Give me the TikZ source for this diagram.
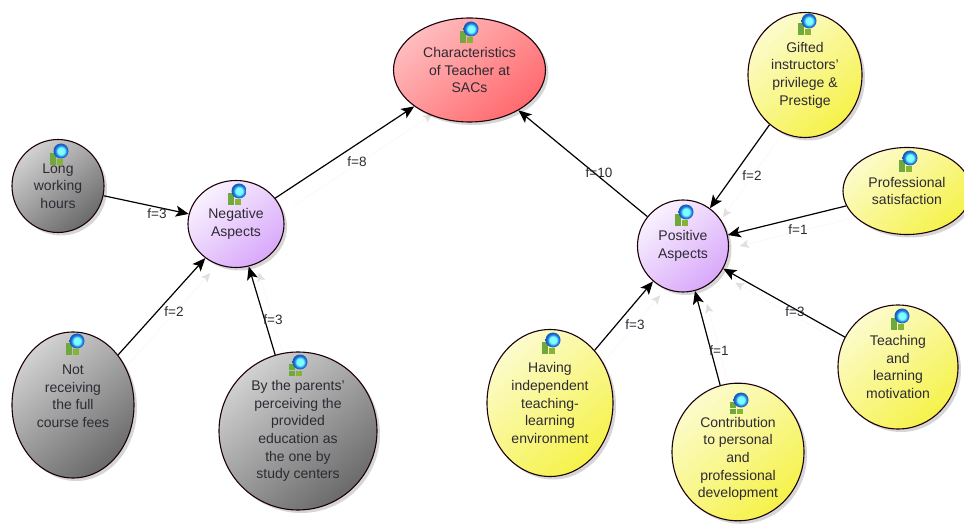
\documentclass[tikz,border=0pt]{standalone}
\usepackage{fontspec}
\setmainfont{Liberation Sans}
\usetikzlibrary{arrows.meta,shadows,shapes.geometric}
\pgfdeclarelayer{faint}
\pgfsetlayers{faint,main}
\definecolor{txt}{HTML}{2E2A33}
\definecolor{redf}{HTML}{FF6A6E}
\definecolor{purf}{HTML}{D8A8FA}
\definecolor{yelf}{HTML}{F5F24A}
\definecolor{gryf}{HTML}{6A6A6A}
\definecolor{icg}{HTML}{6FA83C}
\definecolor{icb}{HTML}{1E6FE0}
\pgfdeclareradialshading{orb}{\pgfpoint{0bp}{0bp}}{
  color(0bp)=(white!55!cyan); color(12bp)=(white!45!cyan); color(19bp)=(icb); color(25bp)=(icb!80!black); color(50bp)=(icb!80!black)}
\tikzset{
  base/.style={ellipse,draw=black!85!purple,line width=1.1pt,inner sep=0pt,align=center,text=txt,
    font=\fontsize{14}{17.6}\selectfont,
    drop shadow={shadow xshift=3pt,shadow yshift=-3pt,opacity=.16,fill=black}},
  redn/.style={base,shading=axis,top color=white!55!redf,bottom color=redf,shading angle=40},
  purn/.style={base,shading=axis,top color=white!85!purf,bottom color=purf,shading angle=40},
  yeln/.style={base,shading=axis,top color=white!72!yelf,bottom color=yelf,shading angle=40},
  gryn/.style={base,shading=axis,top color=white!82!black,bottom color=gryf,shading angle=40},
  link/.style={line width=1.2pt,draw=black,-{Stealth[length=13pt,width=11pt,inset=3pt]}},
  ghost/.style={line width=.5pt,draw=black!3,-{Stealth[length=9pt,width=8pt,inset=2pt,color=black!12]}},
  flabel/.style={font=\fontsize{13.5}{15}\selectfont,text=txt,inner sep=0pt},
  icon/.pic={
    \fill[icg] (-8,-1) rectangle (-2,5);
    \fill[icg] (-8,5.5) rectangle (-2,11);
    \fill[icg!85!yellow] (-1.5,5.5) rectangle (5,11);
    \shade[shading=orb] (3,-3) circle (7.5);
  }
}
\begin{document}
\begin{tikzpicture}[x=1pt,y=-1pt]
\useasboundingbox (0,0) rectangle (964,529);
\begin{pgfonlayer}{faint}
\fill[white] (0,0) rectangle (964,529);
\end{pgfonlayer}
% shapes
\node[redn,minimum width=152pt,minimum height=104pt] (char) at (469.5,70) {Characteristics\\of Teacher at\\SACs};
\node[gryn,minimum width=92pt,minimum height=93pt] (long) at (58,186) {Long\\working\\hours};
\node[purn,minimum width=96pt,minimum height=87pt] (neg) at (236,224) {Negative\\Aspects};
\node[purn,minimum width=91pt,minimum height=92pt] (pos) at (683,246) {Positive\\Aspects};
\node[yeln,minimum width=114pt,minimum height=125pt] (gift) at (805,75) {Gifted\\instructors'\\privilege \&\\Prestige};
\node[yeln,minimum width=128pt,minimum height=87pt] (prof) at (907,191) {Professional\\satisfaction};
\node[yeln,minimum width=120pt,minimum height=124pt] (teach) at (898,367) {Teaching\\and\\learning\\motivation};
\node[yeln,minimum width=132pt,minimum height=126pt] (contr) at (738,452) {\mbox{}\\[6.4pt]Contribution\\to personal\\and\\professional\\development};
\node[yeln,minimum width=126pt,minimum height=147pt] (hav) at (550,403) {Having\\independent\\teaching-\\learning\\environment};
\node[gryn,minimum width=122pt,minimum height=146pt] (not) at (73,405) {Not\\receiving\\the full\\course fees\\ \mbox{}};
\node[gryn,minimum width=158pt,minimum height=158pt] (par) at (298,431) {By the parents'\\perceiving the\\provided\\education as\\the one by\\study centers};
% faint links
\begin{pgfonlayer}{faint}
\foreach \a/\b/\dx/\dy in {neg/char/18/8,gift/pos/13/9,prof/pos/12/11,teach/pos/12/14,contr/pos/12/13,hav/pos/7/14,not/neg/5/15,par/neg/10/6}{
  \draw[ghost,transform canvas={xshift=\dx pt,yshift=-\dy pt}] (\a) -- (\b);
}
\end{pgfonlayer}
% connectors
\draw[link] (long) -- (neg);
\draw[link] (not) -- (neg);
\draw[link] (par) -- (neg);
\draw[link] (neg) -- (char);
\draw[link] (pos) -- (char);
\draw[link] (gift) -- (pos);
\draw[link] (prof) -- (pos);
\draw[link] (teach) -- (pos);
\draw[link] (contr) -- (pos);
\draw[link] (hav) -- (pos);
% labels
\node[flabel] (l1) at (357,162) {f=8};
\node[flabel] (l2) at (599,173) {f=10};
\node[flabel] (l3) at (752,176) {f=2};
\node[flabel] (l4) at (798,230) {f=1};
\node[flabel] (l5) at (795,312) {f=3};
\node[flabel] (l6) at (719,351) {f=1};
\node[flabel] (l7) at (635,325) {f=3};
\node[flabel] (l8) at (157,214) {f=3};
\node[flabel] (l9) at (174,312) {f=2};
\node[flabel] (l10) at (273,320) {f=3};
% icons
\foreach \ix/\iy in {468/32,58/154,236/194,683/215,806/24,907/161,899/319,738/403,550/343,74/344,297/365}{
  \pic at (\ix,\iy) {icon};
}
\end{tikzpicture}
\end{document}
